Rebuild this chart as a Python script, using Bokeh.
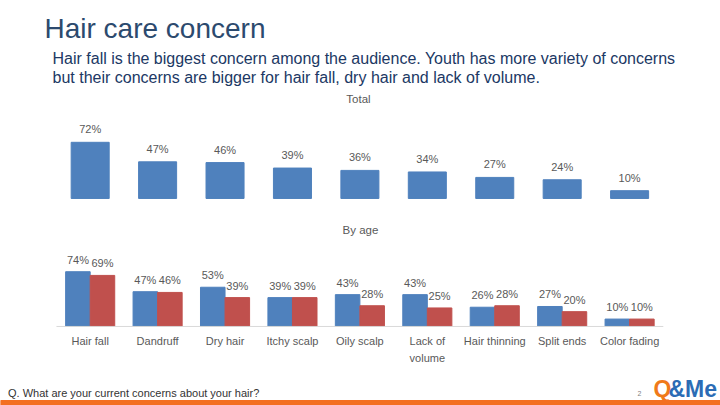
from bokeh.plotting import figure
from bokeh.models import Range1d, ColumnDataSource
from bokeh.transform import dodge
from bokeh.core.properties import value
from bokeh.embed import file_html
from bokeh.resources import INLINE

# ---- data ----
categories = ["Hair fall", "Dandruff", "Dry hair", "Itchy scalp", "Oily scalp",
              "Lack of volume", "Hair thinning", "Split ends", "Color fading"]
tick_labels = ["Hair fall", "Dandruff", "Dry hair", "Itchy scalp", "Oily scalp",
               "Lack of\nvolume", "Hair thinning", "Split ends", "Color fading"]
total = [72, 47, 46, 39, 36, 34, 27, 24, 10]
age_group_1 = [74, 47, 53, 39, 43, 43, 26, 27, 10]
age_group_2 = [69, 46, 39, 39, 28, 25, 28, 20, 10]

title_text = "Hair care concern"
subtitle_lines = ["Hair fall is the biggest concern among the audience. Youth has more variety of concerns",
                  "but their concerns are bigger for hair fall, dry hair and lack of volume."]
footer_text = "Q. What are your current concerns about your hair?"

FONT = "Liberation Sans"
BLUE = "#4F81BD"
RED = "#C0504D"
GREY = "#595959"

W, H = 720, 405
# one canvas; default ranges are page pixels (y downward)
p = figure(width=W, height=H, x_range=Range1d(0, W), y_range=Range1d(H, 0),
           x_axis_location=None, y_axis_location=None, toolbar_location=None,
           output_backend="svg", min_border=0, outline_line_color=None)
p.grid.visible = False

n = len(categories)
idx = list(range(n))
# category index scale (categories at 0..n-1) and percent scales for the two charts
p.extra_x_ranges = {"cat": Range1d(-1.33, 9.348)}
p.extra_y_ranges = {"top": Range1d(-265.4, 253.8), "bot": Range1d(-106.8, 440.5)}


def txt(x, base, s, size, color, align="left", style="normal"):
    # base = wanted alphabetic baseline; bokeh's baseline sits ~0.3em lower
    p.text(x=[x], y=[base - 0.3 * size], text=[s], text_font=value(FONT),
           text_font_size=f"{size}px", text_color=color, text_align=align,
           text_baseline="alphabetic", text_font_style=style)


# ---- header ----
txt(44, 36.5, title_text, 28, "#2C4A6E")
txt(52, 62.3, subtitle_lines[0], 16, "#203864")
txt(52, 81.7, subtitle_lines[1], 16, "#203864")
txt(358, 101.7, "Total", 11.5, GREY, align="center")
txt(360, 233.3, "By age", 11.5, GREY, align="center")

# ---- top chart (Total) ----
src_top = ColumnDataSource(dict(i=idx, v=total, lab=[f"{v}%" for v in total]))
p.vbar(x="i", top="v", bottom=0, width=0.564, color=BLUE, source=src_top,
       x_range_name="cat", y_range_name="top")
p.text(x="i", y="v", text="lab", source=src_top, text_font=value(FONT),
       text_font_size="11px", text_color=GREY, text_align="center",
       text_baseline="alphabetic", y_offset=-13, x_range_name="cat", y_range_name="top")

# ---- bottom chart (By age) ----
src_b = ColumnDataSource(dict(i=idx, a=age_group_1, b=age_group_2, tl=tick_labels,
                              zero=[0] * n,
                              la=[f"{v}%" for v in age_group_1],
                              lb=[f"{v}%" for v in age_group_2]))
xa = dodge("i", -0.182)
xb = dodge("i", 0.182)
p.vbar(x=xa, top="a", bottom=0, width=0.364, color=BLUE, source=src_b,
       x_range_name="cat", y_range_name="bot")
p.vbar(x=xb, top="b", bottom=0, width=0.364, color=RED, source=src_b,
       x_range_name="cat", y_range_name="bot")
p.text(x=xa, y="a", text="la", source=src_b, text_font=value(FONT), text_font_size="11px",
       text_color=GREY, text_align="center", text_baseline="alphabetic", y_offset=-12,
       x_range_name="cat", y_range_name="bot")
p.text(x=xb, y="b", text="lb", source=src_b, text_font=value(FONT), text_font_size="11px",
       text_color=GREY, text_align="center", text_baseline="alphabetic", y_offset=-12,
       x_range_name="cat", y_range_name="bot")
# category axis: baseline line and tick labels
p.segment(x0=[-0.5], x1=[n - 0.5], y0=[0], y1=[0], line_color="#D9D9D9", line_width=1,
          x_range_name="cat", y_range_name="bot")
p.text(x="i", y="zero", text="tl", source=src_b, text_font=value(FONT), text_font_size="11px",
       text_color=GREY, text_align="center", text_baseline="top", y_offset=9,
       text_line_height=1.4, x_range_name="cat", y_range_name="bot")

# ---- footer ----
txt(7.5, 395.7, footer_text, 11, "#333333")
txt(637, 395, "2", 7, "#7F7F7F")
txt(653, 395, "Q", 23, "#F07A1A", style="bold")
txt(668, 395, "&Me", 23, "#2B6CB5", style="bold")
p.quad(left=[0], right=[W], bottom=[H], top=[400], color="#F36F21")

open("out.html", "w").write(file_html(p, INLINE))
